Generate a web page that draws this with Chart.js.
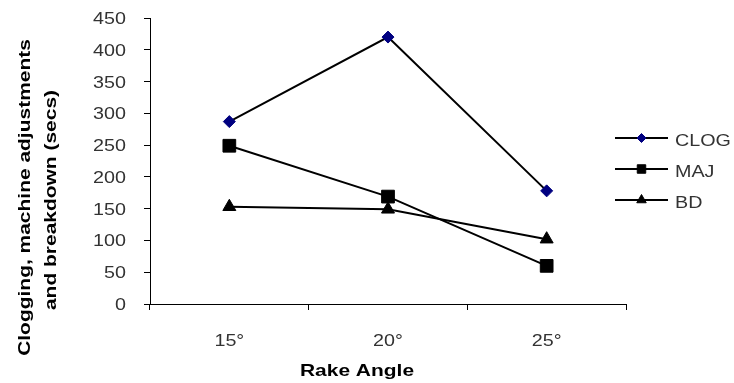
<!DOCTYPE html>
<html><head><meta charset="utf-8">
<script src="https://cdn.jsdelivr.net/npm/chart.js@4/dist/chart.umd.min.js"></script>
<style>html,body{margin:0;padding:0;background:#fff;overflow:hidden}</style>
</head><body>
<canvas id="c" width="734" height="383" style="display:block"></canvas>
<script>
const categories = ['15°', '20°', '25°'];
const seriesNames = ['CLOG', 'MAJ', 'BD'];
const clogValues = [287, 420, 178];
const majValues = [249, 169, 60];
const bdValues = [153, 149, 102];
const yMin = 0, yMax = 450, yStep = 50;
const xTitle = 'Rake Angle';
const yTitleLines = ['Clogging, machine adjustments', 'and breakdown (secs)'];

const FONT = '"Liberation Sans", Arial, sans-serif';
const REG = '17px ' + FONT;
const BOLD = 'bold 16.5px ' + FONT;
const SX_REG = 1.16;
const SX_BOLD = 1.27;
const TEXT_COLOR = '#333';

const styles = [
  { pointStyle: 'rectRot', radius: 6, fill: '#000080', legendRadius: 4.5 },
  { pointStyle: 'rect', radius: 9, fill: '#000000', legendRadius: 6 },
  { pointStyle: 'triangle', radius: 7.5, fill: '#000000', legendRadius: 5.5 }
];
const values = [clogValues, majValues, bdValues];

function drawMarker(ctx, style, r, x, y) {
  ctx.beginPath();
  if (style === 'rectRot') {
    ctx.moveTo(x, y - r); ctx.lineTo(x + r, y); ctx.lineTo(x, y + r); ctx.lineTo(x - r, y); ctx.closePath();
  } else if (style === 'rect') {
    const s = Math.SQRT1_2 * r; ctx.rect(x - s, y - s, 2 * s, 2 * s);
  } else {
    const h = r * Math.cos(Math.PI / 6);
    ctx.moveTo(x, y - r); ctx.lineTo(x + h, y + r / 2); ctx.lineTo(x - h, y + r / 2); ctx.closePath();
  }
  ctx.fill(); ctx.stroke();
}

function text(ctx, str, x, y, align, sx, rot) {
  ctx.save();
  ctx.translate(x, y);
  if (rot) ctx.rotate(rot);
  ctx.scale(sx, 1);
  ctx.textAlign = align;
  ctx.textBaseline = 'alphabetic';
  ctx.fillText(str, 0, 0);
  ctx.restore();
}

const decorPlugin = {
  id: 'decor',
  afterDraw(c) {
    const ctx = c.ctx;
    const ca = c.chartArea;
    const xs = c.scales.x, ys = c.scales.y;
    ctx.save();
    ctx.fillStyle = TEXT_COLOR;
    ctx.font = REG;
    // y tick labels
    ys.ticks.forEach(t => {
      text(ctx, String(t.label), ca.left - 24, ys.getPixelForValue(t.value) + 6, 'right', SX_REG);
    });
    // x tick labels
    xs.ticks.forEach((t, i) => {
      text(ctx, String(xs.getLabelForValue(t.value)), xs.getPixelForTick(i), ca.bottom + 42, 'center', SX_REG);
    });
    // legend
    const lx0 = ca.right - 11, lx1 = ca.right + 42;
    seriesNames.forEach((name, i) => {
      const y = 138 + i * 31;
      ctx.strokeStyle = '#000';
      ctx.lineWidth = 2;
      ctx.beginPath(); ctx.moveTo(lx0, y); ctx.lineTo(lx1, y); ctx.stroke();
      ctx.fillStyle = styles[i].fill;
      ctx.strokeStyle = styles[i].fill;
      ctx.lineWidth = 1;
      drawMarker(ctx, styles[i].pointStyle, styles[i].legendRadius, (lx0 + lx1) / 2, y);
      ctx.fillStyle = TEXT_COLOR;
      text(ctx, name, lx1 + 7, y + 7.5, 'left', SX_REG);
    });
    // axis titles
    ctx.font = BOLD;
    ctx.fillStyle = '#000';
    text(ctx, xTitle, (ca.left + ca.right) / 2 - 31, 376, 'center', SX_BOLD);
    text(ctx, yTitleLines[0], 30, 197.5, 'center', SX_BOLD, -Math.PI / 2);
    text(ctx, yTitleLines[1], 55.5, 200, 'center', SX_BOLD, -Math.PI / 2);
    ctx.restore();
  }
};

new Chart(document.getElementById('c'), {
  type: 'line',
  data: {
    labels: categories,
    datasets: seriesNames.map((name, i) => ({
      label: name,
      data: values[i],
      borderColor: '#000',
      borderWidth: 2,
      pointStyle: styles[i].pointStyle,
      pointRadius: styles[i].radius,
      pointBackgroundColor: styles[i].fill,
      pointBorderColor: styles[i].fill,
      pointBorderWidth: 1,
      tension: 0,
      fill: false
    }))
  },
  options: {
    responsive: false,
    animation: false,
    devicePixelRatio: 1,
    layout: { padding: { top: 18, right: 108, left: 0, bottom: 0 } },
    plugins: { legend: { display: false }, tooltip: { enabled: false } },
    scales: {
      x: {
        type: 'category',
        offset: true,
        grid: { display: true, drawOnChartArea: false, offset: true, tickLength: 6, color: '#000', lineWidth: 1 },
        border: { display: true, color: '#000', width: 1 },
        ticks: { display: false },
        afterFit(s) { s.height = 79; }
      },
      y: {
        min: yMin, max: yMax,
        grid: { display: true, drawOnChartArea: false, tickLength: 6, color: '#000', lineWidth: 1 },
        border: { display: true, color: '#000', width: 1 },
        ticks: { stepSize: yStep, display: false },
        afterFit(s) { s.width = 150; }
      }
    }
  },
  plugins: [decorPlugin]
});
</script>
</body></html>
